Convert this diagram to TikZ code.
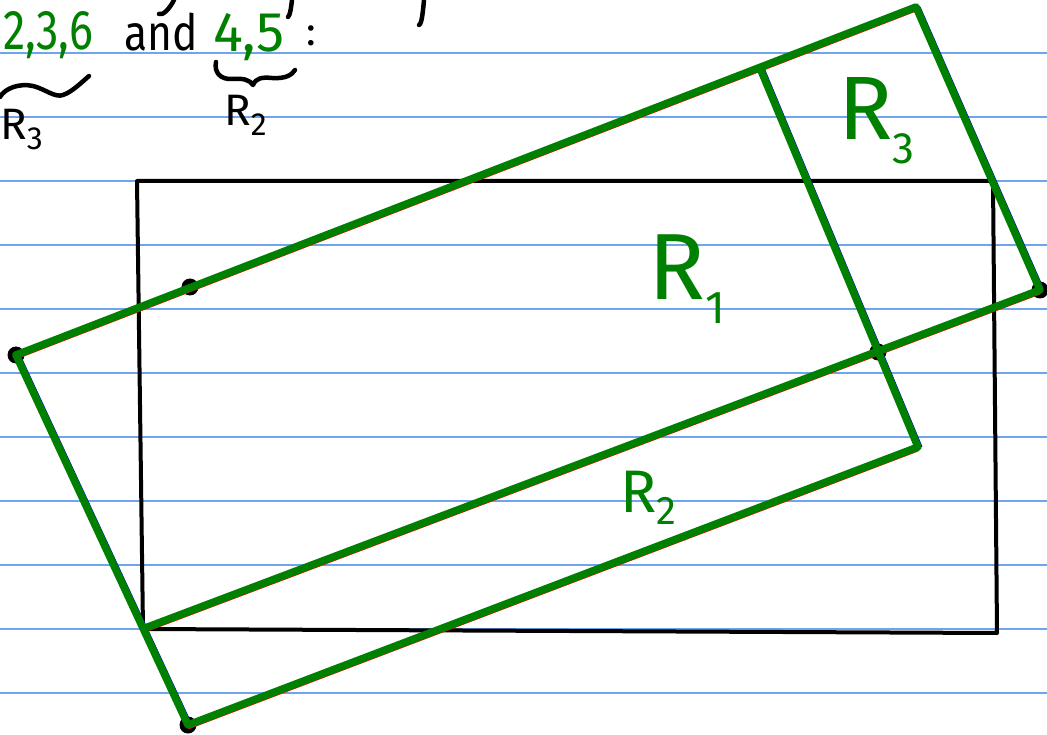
\documentclass[tikz,border=0pt]{standalone}
\usepackage{fontspec}
\setmainfont{Fira Sans}
\definecolor{hgreen}{RGB}{0,128,0}
\definecolor{ruleblue}{RGB}{110,165,235}
\begin{document}
\begin{tikzpicture}[x=1pt,y=-1pt,
  rule/.style={draw=ruleblue,line width=1.6pt},
  gline/.style={draw=hgreen,line width=7.5pt,line cap=round,line join=round},
  frame/.style={draw=black,line width=4pt,line join=round},
  ink/.style={draw=black,line width=4.5pt,line cap=round,line join=round},
  redlow/.style={draw=red,line width=2pt,transform canvas={yshift=-3.5pt}},
  blueright/.style={draw=blue!80!black,line width=2pt,transform canvas={xshift=3.5pt}},
  dotc/.style={circle,fill=black,inner sep=0pt,minimum size=17pt},
  gtext/.style={text=hgreen,inner sep=0pt,anchor=base west},
  ktext/.style={text=black,inner sep=0pt,anchor=base west}]
\useasboundingbox (0,0) rectangle (1047,735);
\fill[white] (0,0) rectangle (1047,735);
% ruled lines
\foreach \y in {53,117,181,245,309,373,437,501,565,629,693}
  \draw[rule] (0,\y) -- (1047,\y);
% black rectangle
\coordinate (TL) at (137,181);
\coordinate (TR) at (993,181);
\coordinate (BR) at (997,633);
\coordinate (BL) at (143,629);
\draw[frame] (TL) -- (TR) -- (BR) -- (BL) -- cycle;
% green geometry points
\coordinate (P1) at (16,355);
\coordinate (P2) at (916,7);
\coordinate (P3) at (1040,290);
\coordinate (P4) at (145,628);
\coordinate (P5) at (188,725);
\coordinate (P6) at (918,447);
\coordinate (Q) at (760,68);
\coordinate (M) at (878,352);
\coordinate (D2) at (190,287);
% dots
\node[dotc] (d1) at (P1) {};
\node[dotc] (d2) at (D2) {};
\node[dotc] (d3) at (M) {};
\node[dotc] (d4) at (P3) {};
\node[dotc] (d5) at (P5) {};
% thin coloured edges
\draw[redlow] (P1) -- (P2);
\draw[redlow] (P4) -- (P3);
\draw[redlow] (P5) -- (P6);
\draw[blueright] (P2) -- (P3);
\draw[blueright] (P1) -- (P5);
\draw[blueright] (Q) -- (P6);
% green lines
\draw[gline] (P1) -- (P2) -- (P3) -- (P4);
\draw[gline] (P1) -- (P5) -- (P6) -- (Q);
% labels
\node[gtext] (r1) at (648,300) {\fontsize{94}{94}\selectfont R\raisebox{-24pt}{\fontsize{46}{46}\selectfont 1}};
\node[gtext] (r3) at (838,140) {\fontsize{90}{90}\selectfont R\raisebox{-24pt}{\fontsize{44}{44}\selectfont 3}};
\node[gtext] (r2) at (620,512) {\fontsize{60}{60}\selectfont R\raisebox{-12pt}{\fontsize{40}{40}\selectfont 2}};
% top text
\node[gtext] (t1) at (3,50) {\scalebox{0.8}[1]{\fontsize{56}{56}\selectfont 2,3,6}};
\node[ktext] (t2) at (124,51) {\scalebox{0.85}[1]{\fontsize{50}{50}\selectfont and}};
\node[gtext] (t3) at (213,52) {\fontsize{56}{56}\selectfont 4,5};
\node[ktext] (t4) at (306,46) {\fontsize{40}{40}\selectfont :};
\node[ktext] (t5) at (0,140) {\fontsize{44}{44}\selectfont R\raisebox{-10pt}{\fontsize{32}{32}\selectfont 3}};
\node[ktext] (t6) at (224,126) {\fontsize{44}{44}\selectfont R\raisebox{-10pt}{\fontsize{32}{32}\selectfont 2}};
% braces
\draw[ink] (0,97) .. controls (5,88) and (20,83) .. (33,86) .. controls (45,89) and (55,98) .. (63,95) .. controls (72,92) and (82,82) .. (89,76);
\draw[ink] (216,62) .. controls (214,72) and (220,80) .. (233,79) .. controls (243,78) and (250,80) .. (253,85) .. controls (256,78) and (262,77) .. (272,78) .. controls (285,79) and (292,75) .. (295,70);
% fragments of the line above
\draw[ink] (174,0) .. controls (170,8) and (163,16) .. (159,14);
\draw[ink] (292,0) .. controls (291,8) and (290,16) .. (288,17);
\draw[ink] (424,0) .. controls (423,10) and (422,24) .. (419,25);
\end{tikzpicture}
\end{document}
